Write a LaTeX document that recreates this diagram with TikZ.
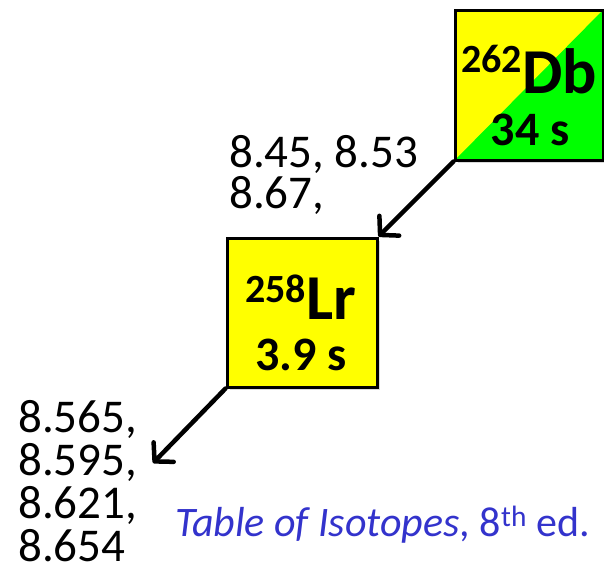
\documentclass[tikz,border=0pt]{standalone}
\usepackage{fontspec}
\setmainfont{Carlito}
\usetikzlibrary{arrows.meta,shadows}
\definecolor{isoyellow}{RGB}{255,255,0}
\definecolor{isogreen}{RGB}{0,255,0}
\definecolor{refblue}{RGB}{51,51,204}
\begin{document}
\begin{tikzpicture}[x=1pt,y=-1pt,
  isobox/.style={draw=black, line width=3pt, fill=isoyellow, rectangle, inner sep=0pt,
    drop shadow={shadow xshift=3pt, shadow yshift=-3pt, opacity=0.3}},
  decay/.style={line width=4.5pt, line cap=round, -{Straight Barb[length=13pt,width=28pt,line cap=round,line join=round]}},
  txt/.style={inner sep=0pt, anchor=base west},
  ctr/.style={inner sep=0pt, anchor=base}]
\useasboundingbox (0,0) rectangle (604,566);
\node[isobox, minimum width=148pt, minimum height=150pt,
  path picture={\fill[isogreen] (path picture bounding box.south west) -- (path picture bounding box.south east) -- (path picture bounding box.north east) -- cycle;}] (db) at (529,85) {};
\node[isobox, minimum width=150pt, minimum height=149pt] (lr) at (302,312.5) {};
\node[txt] (dbname) at (461,93) {\bfseries\raisebox{21pt}{\fontsize{40}{40}\selectfont 262}\fontsize{64}{64}\selectfont Db};
\node[ctr] (dbhalf) at (530,145) {\bfseries\fontsize{48}{48}\selectfont 34 s};
\node[txt] (lrname) at (245,319) {\bfseries\raisebox{17pt}{\fontsize{40}{40}\selectfont 258}\fontsize{64}{64}\selectfont Lr};
\node[ctr] (lrhalf) at (301,370) {\bfseries\fontsize{48}{48}\selectfont 3.9 s};
\coordinate (tip2) at (153,463);
\draw[decay] (db.south west) -- (lr.north east);
\draw[decay] (lr.south west) -- (tip2);
\node[txt, align=left, font=\fontsize{47}{41}\selectfont] (e1) at (229,208) {8.45, 8.53\\8.67,};
\node[txt, align=left, font=\fontsize{47}{43}\selectfont] (e2) at (18,561) {8.565,\\8.595,\\8.621,\\8.654};
\node[txt, text=refblue, font=\fontsize{42}{42}\selectfont] (ref) at (175,536) {\textit{Table of Isotopes}, 8\textsuperscript{th} ed.};
\end{tikzpicture}
\end{document}
